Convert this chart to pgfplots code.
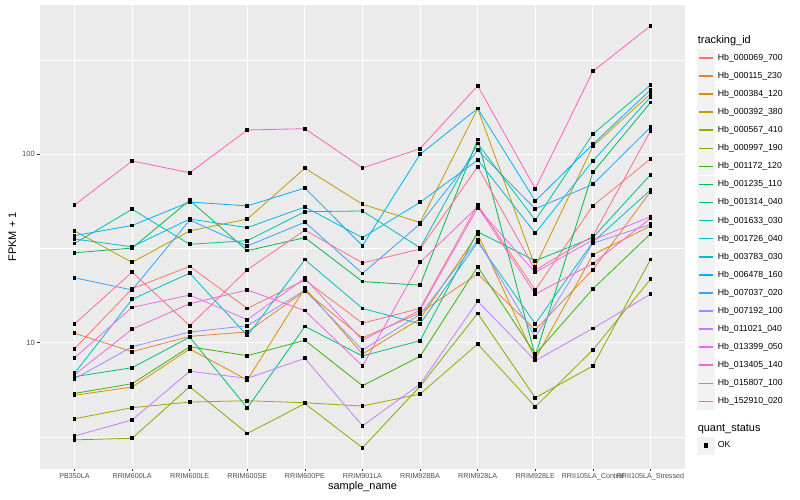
\documentclass[border=0pt]{standalone}
\usepackage{pgfplots}
\pgfplotsset{compat=1.18}
\usepackage{pgfplotstable}
\usepackage{fontspec}
\setmainfont{Liberation Sans}

% ggplot2 hue palette, 20 levels
\definecolor{c1}{HTML}{F8766D}
\definecolor{c2}{HTML}{EA8331}
\definecolor{c3}{HTML}{D89000}
\definecolor{c4}{HTML}{C09B00}
\definecolor{c5}{HTML}{A3A500}
\definecolor{c6}{HTML}{7CAE00}
\definecolor{c7}{HTML}{39B600}
\definecolor{c8}{HTML}{00BB4E}
\definecolor{c9}{HTML}{00BF7D}
\definecolor{c10}{HTML}{00C1A3}
\definecolor{c11}{HTML}{00BFC4}
\definecolor{c12}{HTML}{00BAE0}
\definecolor{c13}{HTML}{00B0F6}
\definecolor{c14}{HTML}{35A2FF}
\definecolor{c15}{HTML}{9590FF}
\definecolor{c16}{HTML}{C77CFF}
\definecolor{c17}{HTML}{E76BF3}
\definecolor{c18}{HTML}{FA62DB}
\definecolor{c19}{HTML}{FF62BC}
\definecolor{c20}{HTML}{FF6C91}
\definecolor{ggbg}{HTML}{EBEBEB}
\definecolor{ggkey}{HTML}{F2F2F2}
\definecolor{gg33}{HTML}{333333}
\definecolor{gg4d}{HTML}{4D4D4D}

% FPKM + 1 per sample (rows) and tracking id (columns)
\pgfplotstableread{
x  s1    s2    s3    s4    s5    s6    s7    s8    s9    s10   s11   s12   s13   s14   s15   s16   s17   s18   s19   s20
0  9.29  11.22 5.26  39.2  3.95  3.05  5.38  30.0  6.60  33.6  6.88  35.5  37.0  22.1  6.44  3.20  8.32  6.76  53.8  12.57
1  19.35 8.96  5.82  26.7  4.52  3.11  6.06  31.8  7.37  51.1  17.0  32.3  41.9  19.05 9.52  3.89  15.4  11.8  92.1  23.7
2  25.4  10.8  9.26  39.2  4.84  5.84  9.52  57.0  10.7  33.3  23.4  45.3  55.8  44.8  11.4  7.05  17.9  16.1  79.8  12.3
3  15.2  11.4  6.34  45.3  4.92  3.30  8.53  30.8  4.50  34.8  10.9  40.8  53.2  32.6  12.3  6.47  13.25 19.05 134.6 24.4
4  21.5  18.8  19.5  84.3  4.80  4.75  10.3  36.1  12.2  49.6  27.6  52.5  66.2  43.6  19.0  8.26  22.0  14.8  136.7 39.6
5  12.7  10.6  8.71  54.3  4.61  2.77  5.91  21.1  8.50  50.0  15.2  36.1  32.7  23.3  9.15  3.62  10.3  7.52  84.6  26.5
6  15.2  14.4  13.4  43.4  5.34  5.87  8.47  20.2  10.25 31.9  12.6  55.6  100   42.7  14.1  6.02  14.9  26.7  107.1 31.4
7  54.0  23.2  37.8  175   9.84  14.3  25.3  120   38.8  114   34.2  93.3  175   105   35.1  16.6  51.9  52.7  231   85.9
8  19.05 11.7  8.20  25.3  4.57  5.10  8.68  8.50  27.2  44.6  12.6  38.2  56.5  51.3  10.7  8.03  23.6  18.1  65.7  24.3
9  53.3  24.4  29.3  110.3 9.15  7.52  19.3  80.3  36.1  128   34.2  92.1  113   69.3  33.7  11.9  35.1  26.3  275.7 36.8
10 94.4  63.3  41.6  209   21.7  27.6  37.8  188   77.9  233   64.6  201   219.5 139   42.5  18.1  46.6  45.7  479.6 133
}\fpkm

\begin{document}
\begin{tikzpicture}
\path[use as bounding box] (0,0) rectangle (800bp,500bp);
\begin{axis}[
    at={(40bp,31.3bp)}, anchor=south west,
    scale only axis, width=645bp, height=463.7bp,
    ymode=log, ymin=2.144, ymax=620,
    xmin=-0.6, xmax=10.6,
    xtick={0,...,10},
    xticklabels={PB350LA,RRIM600LA,RRIM600LE,RRIM600SE,RRIM600PE,RRIM901LA,RRIM928BA,RRIM928LA,RRIM928LE,RRII105LA\_Control,RRII105LA\_Stressed},
    ytick={10,100}, yticklabels={10,100},
    minor ytick={3.1623,31.623,316.23},
    xmajorgrids, ymajorgrids, yminorgrids,
    major grid style={white, line width=1.07bp},
    minor grid style={white, line width=0.53bp},
    axis background/.style={fill=ggbg},
    axis line style={draw=none},
    tick align=outside, xtick pos=bottom, ytick pos=left,
    major tick length=2.75bp, minor tick length=0bp,
    tick style={gg33, line width=0.53bp},
    xticklabel style={font=\fontsize{7.2}{8}\selectfont, text=gg4d, inner sep=0pt, anchor=north, yshift=-1.5bp},
    yticklabel style={font=\fontsize{7.6}{8}\selectfont, text=gg4d, inner sep=0pt, anchor=east, xshift=-2.2bp},
    xlabel={sample\_name}, ylabel={FPKM + 1},
    xlabel style={font=\fontsize{11}{13}\selectfont, inner sep=0pt, at={(axis description cs:0.5,-0.0445)}, anchor=base},
    ylabel style={font=\fontsize{11}{13}\selectfont, inner sep=0pt, at={(axis description cs:-0.0372,0.5)}, anchor=base},
    legend cell align=left,
    legend style={at={(1,1)}, anchor=north west, xshift=12bp, yshift=-30bp,
        draw=none, fill=none, inner sep=0pt, outer sep=0pt,
        row sep=0.28bp, column sep=3bp,
        font=\fontsize{8.8}{10}\selectfont, nodes={inner sep=0pt}},
    legend image code/.code={
        \fill[ggkey] (0bp,-8.5bp) rectangle (17bp,8.5bp);
        \draw[#1, line width=1.5bp] (1.5bp,0bp) -- (15.5bp,0bp);},
    every axis plot/.append style={line width=0.8bp},
]
\addlegendimage{empty legend}
\addlegendentry[text height=9bp, text depth=4.7bp, font=\fontsize{11}{13}\selectfont]{\hspace*{-20bp}tracking\_id}

\addplot[c1, no marks] table[x=x, y=s1] {\fpkm};
\addlegendentry{Hb\_000069\_700}
\addplot[c2, no marks] table[x=x, y=s2] {\fpkm};
\addlegendentry{Hb\_000115\_230}
\addplot[c3, no marks] table[x=x, y=s3] {\fpkm};
\addlegendentry{Hb\_000384\_120}
\addplot[c4, no marks] table[x=x, y=s4] {\fpkm};
\addlegendentry{Hb\_000392\_380}
\addplot[c5, no marks] table[x=x, y=s5] {\fpkm};
\addlegendentry{Hb\_000567\_410}
\addplot[c6, no marks] table[x=x, y=s6] {\fpkm};
\addlegendentry{Hb\_000997\_190}
\addplot[c7, no marks] table[x=x, y=s7] {\fpkm};
\addlegendentry{Hb\_001172\_120}
\addplot[c8, no marks] table[x=x, y=s8] {\fpkm};
\addlegendentry{Hb\_001235\_110}
\addplot[c9, no marks] table[x=x, y=s9] {\fpkm};
\addlegendentry{Hb\_001314\_040}
\addplot[c10, no marks] table[x=x, y=s10] {\fpkm};
\addlegendentry{Hb\_001633\_030}
\addplot[c11, no marks] table[x=x, y=s11] {\fpkm};
\addlegendentry{Hb\_001726\_040}
\addplot[c12, no marks] table[x=x, y=s12] {\fpkm};
\addlegendentry{Hb\_003783\_030}
\addplot[c13, no marks] table[x=x, y=s13] {\fpkm};
\addlegendentry{Hb\_006478\_160}
\addplot[c14, no marks] table[x=x, y=s14] {\fpkm};
\addlegendentry{Hb\_007037\_020}
\addplot[c15, no marks] table[x=x, y=s15] {\fpkm};
\addlegendentry{Hb\_007192\_100}
\addplot[c16, no marks] table[x=x, y=s16] {\fpkm};
\addlegendentry{Hb\_011021\_040}
\addplot[c17, no marks] table[x=x, y=s17] {\fpkm};
\addlegendentry{Hb\_013399\_050}
\addplot[c18, no marks] table[x=x, y=s18] {\fpkm};
\addlegendentry{Hb\_013405\_140}
\addplot[c19, no marks] table[x=x, y=s19] {\fpkm};
\addlegendentry{Hb\_015807\_100}
\addplot[c20, no marks] table[x=x, y=s20] {\fpkm};
\addlegendentry{Hb\_152910\_020}

\addlegendimage{empty legend}
\addlegendentry[text height=21bp, text depth=4.7bp, font=\fontsize{11}{13}\selectfont]{\hspace*{-20bp}quant\_status}
\addlegendimage{legend image code/.code={
    \fill[ggkey] (0bp,-8.5bp) rectangle (17bp,8.5bp);
    \fill[black] (6.9bp,-1.6bp) rectangle (10.1bp,1.6bp);}}
\addlegendentry{OK}

% points on top of all lines
\pgfplotsinvokeforeach{1,...,20}{
  \addplot[only marks, mark=square*, mark size=1.35bp, mark options={black, line width=0pt}, forget plot]
    table[x=x, y=s#1] {\fpkm};
}
\end{axis}
\end{tikzpicture}
\end{document}
